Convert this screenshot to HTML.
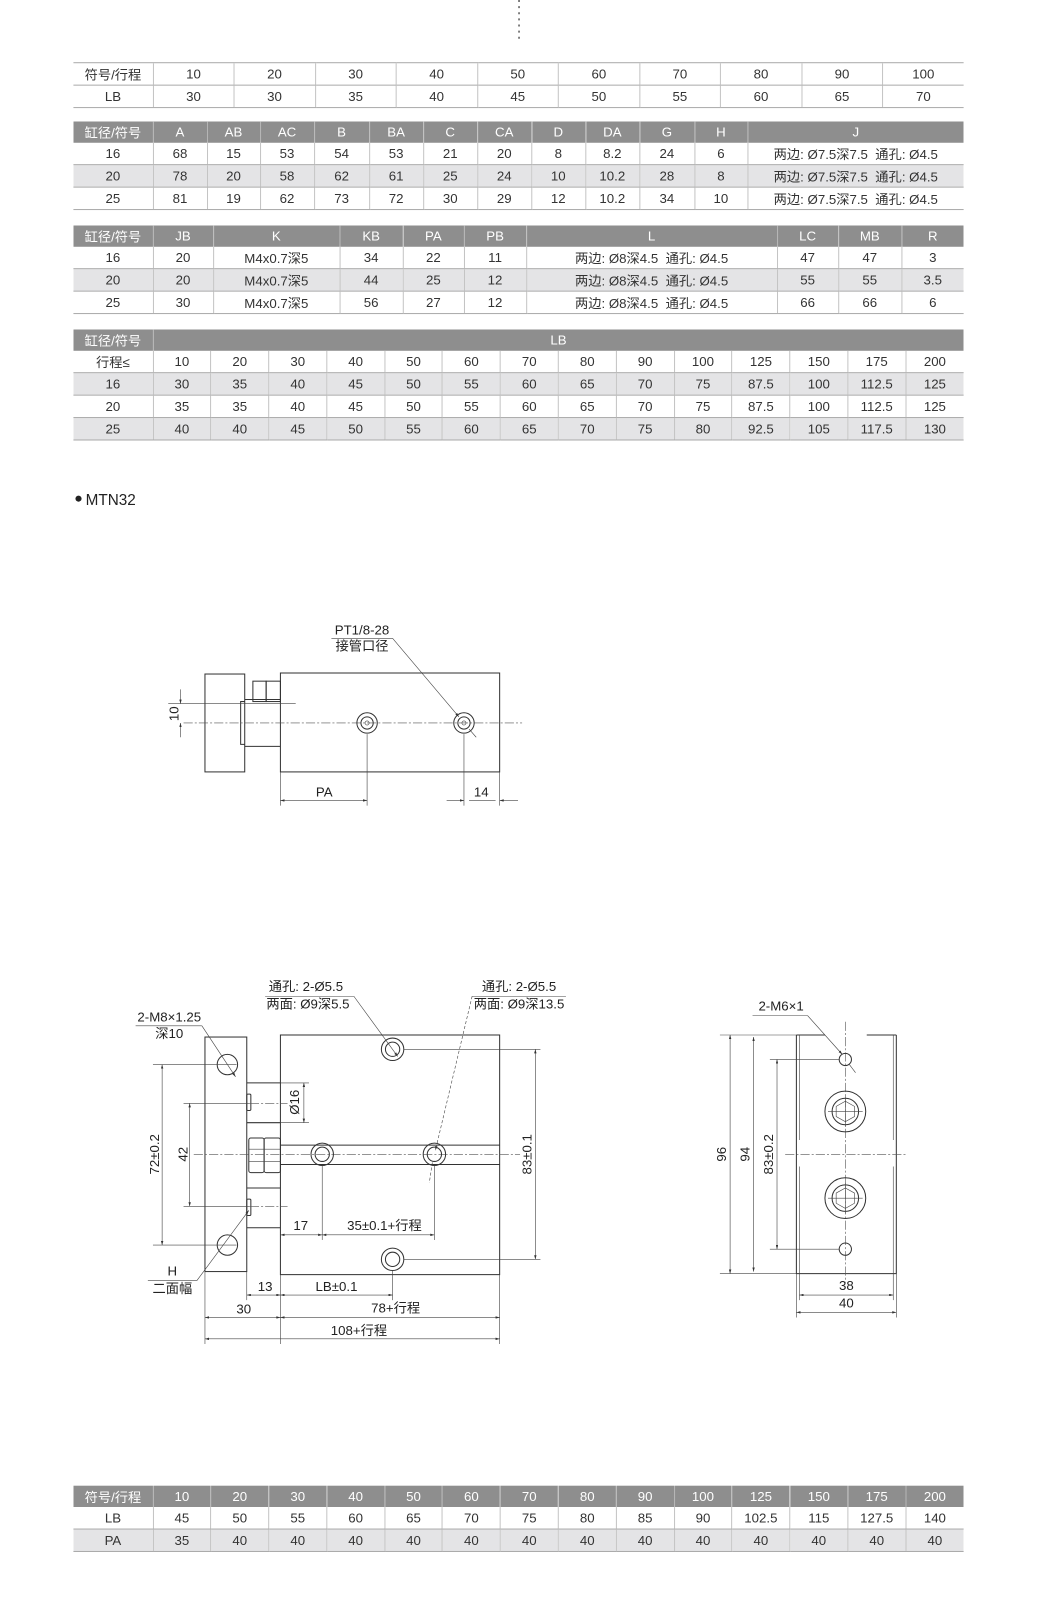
<!DOCTYPE html>
<html><head><meta charset="utf-8">
<style>
html,body{margin:0;padding:0;background:#fff;}
body{width:1037px;height:1600px;overflow:hidden;position:relative;}
#w{position:absolute;left:0;top:0;width:1017px;height:1569px;transform:scale(1.0197);transform-origin:0 0;}
table{position:absolute;left:72px;width:873px;border-collapse:collapse;table-layout:fixed;font-family:"Liberation Sans","Noto Sans CJK SC",sans-serif;font-size:13px;color:#333;}
td{height:21px;padding:0;text-align:center;border-left:1px solid #c4c4c4;border-bottom:1px solid #aaa;white-space:nowrap;overflow:hidden;}
td:first-child{border-left:none;}
tr.h td{background:#8e8e8e;color:#fff;border-left:1px solid #b5b5b5;border-bottom:none;}
tr.h td:first-child{border-left:none;}
tr.g td{background:#e4e4e6;}
.t1 tr:first-child td{border-top:1px solid #aaa;}
svg{position:absolute;left:0;top:0;}
svg text{font-family:"Liberation Sans","Noto Sans CJK SC",sans-serif;font-size:13px;fill:#222;}
.l{stroke:#333;stroke-width:1;fill:none;}
.t{stroke:#444;stroke-width:.6;fill:none;}
.c{stroke:#555;stroke-width:.6;fill:none;stroke-dasharray:9 2 2 2;}
</style></head><body><div id="w">

<table class="t1" style="top:61px">
<colgroup><col style="width:78px"><col span="10"></colgroup>
<tr><td>符号/行程</td><td>10</td><td>20</td><td>30</td><td>40</td><td>50</td><td>60</td><td>70</td><td>80</td><td>90</td><td>100</td></tr>
<tr><td>LB</td><td>30</td><td>30</td><td>35</td><td>40</td><td>45</td><td>50</td><td>55</td><td>60</td><td>65</td><td>70</td></tr>
</table>

<table style="top:119px">
<colgroup><col style="width:78px"><col style="width:53px"><col style="width:52px"><col style="width:53px"><col style="width:54px"><col style="width:53px"><col style="width:53px"><col style="width:53px"><col style="width:53px"><col style="width:53px"><col style="width:54px"><col style="width:52px"><col></colgroup>
<tr class="h"><td>缸径/符号</td><td>A</td><td>AB</td><td>AC</td><td>B</td><td>BA</td><td>C</td><td>CA</td><td>D</td><td>DA</td><td>G</td><td>H</td><td>J</td></tr>
<tr><td>16</td><td>68</td><td>15</td><td>53</td><td>54</td><td>53</td><td>21</td><td>20</td><td>8</td><td>8.2</td><td>24</td><td>6</td><td>两边: Ø7.5深7.5&nbsp; 通孔: Ø4.5</td></tr>
<tr class="g"><td>20</td><td>78</td><td>20</td><td>58</td><td>62</td><td>61</td><td>25</td><td>24</td><td>10</td><td>10.2</td><td>28</td><td>8</td><td>两边: Ø7.5深7.5&nbsp; 通孔: Ø4.5</td></tr>
<tr><td>25</td><td>81</td><td>19</td><td>62</td><td>73</td><td>72</td><td>30</td><td>29</td><td>12</td><td>10.2</td><td>34</td><td>10</td><td>两边: Ø7.5深7.5&nbsp; 通孔: Ø4.5</td></tr>
</table>

<table style="top:221px">
<colgroup><col style="width:78px"><col style="width:59px"><col style="width:124px"><col style="width:62px"><col style="width:60px"><col style="width:61px"><col style="width:246px"><col style="width:60px"><col style="width:62px"><col></colgroup>
<tr class="h"><td>缸径/符号</td><td>JB</td><td>K</td><td>KB</td><td>PA</td><td>PB</td><td>L</td><td>LC</td><td>MB</td><td>R</td></tr>
<tr><td>16</td><td>20</td><td>M4x0.7深5</td><td>34</td><td>22</td><td>11</td><td>两边: Ø8深4.5&nbsp; 通孔: Ø4.5</td><td>47</td><td>47</td><td>3</td></tr>
<tr class="g"><td>20</td><td>20</td><td>M4x0.7深5</td><td>44</td><td>25</td><td>12</td><td>两边: Ø8深4.5&nbsp; 通孔: Ø4.5</td><td>55</td><td>55</td><td>3.5</td></tr>
<tr><td>25</td><td>30</td><td>M4x0.7深5</td><td>56</td><td>27</td><td>12</td><td>两边: Ø8深4.5&nbsp; 通孔: Ø4.5</td><td>66</td><td>66</td><td>6</td></tr>
</table>

<table style="top:323px">
<colgroup><col style="width:78px"><col span="14"></colgroup>
<tr class="h"><td>缸径/符号</td><td colspan="14">LB</td></tr>
<tr><td>行程≤</td><td>10</td><td>20</td><td>30</td><td>40</td><td>50</td><td>60</td><td>70</td><td>80</td><td>90</td><td>100</td><td>125</td><td>150</td><td>175</td><td>200</td></tr>
<tr class="g"><td>16</td><td>30</td><td>35</td><td>40</td><td>45</td><td>50</td><td>55</td><td>60</td><td>65</td><td>70</td><td>75</td><td>87.5</td><td>100</td><td>112.5</td><td>125</td></tr>
<tr><td>20</td><td>35</td><td>35</td><td>40</td><td>45</td><td>50</td><td>55</td><td>60</td><td>65</td><td>70</td><td>75</td><td>87.5</td><td>100</td><td>112.5</td><td>125</td></tr>
<tr class="g"><td>25</td><td>40</td><td>40</td><td>45</td><td>50</td><td>55</td><td>60</td><td>65</td><td>70</td><td>75</td><td>80</td><td>92.5</td><td>105</td><td>117.5</td><td>130</td></tr>
</table>

<table style="top:1457px">
<colgroup><col style="width:78px"><col span="14"></colgroup>
<tr class="h"><td>符号/行程</td><td>10</td><td>20</td><td>30</td><td>40</td><td>50</td><td>60</td><td>70</td><td>80</td><td>90</td><td>100</td><td>125</td><td>150</td><td>175</td><td>200</td></tr>
<tr><td>LB</td><td>45</td><td>50</td><td>55</td><td>60</td><td>65</td><td>70</td><td>75</td><td>80</td><td>85</td><td>90</td><td>102.5</td><td>115</td><td>127.5</td><td>140</td></tr>
<tr class="g"><td>PA</td><td>35</td><td>40</td><td>40</td><td>40</td><td>40</td><td>40</td><td>40</td><td>40</td><td>40</td><td>40</td><td>40</td><td>40</td><td>40</td><td>40</td></tr>
</table>

<svg width="1017" height="1569" viewBox="0 0 1017 1569">
<defs>
<marker id="a" viewBox="0 0 10 6" refX="10" refY="3" markerWidth="7" markerHeight="4" orient="auto-start-reverse"><path d="M0 0L10 3L0 6z" fill="#333"/></marker>
</defs>
<line x1="509" y1="0" x2="509" y2="42" stroke="#333" stroke-width="1.2" stroke-dasharray="2 4"/>
<circle cx="77" cy="489" r="3" fill="#222"/>
<text x="84" y="495" style="font-size:15px">MTN32</text>

<!-- top view -->
<rect class="l" x="201" y="661" width="39" height="96"/>
<path class="l" d="M240 688h-4v42h4M240 686h35M240 732h35"/>
<rect class="l" x="248" y="668" width="13" height="20"/><rect class="l" x="261" y="668" width="14" height="20"/>
<rect class="l" x="275" y="660" width="215" height="97"/>
<line class="c" x1="180" y1="709" x2="512" y2="709"/>
<g class="l"><circle cx="360" cy="709" r="10"/><circle cx="360" cy="709" r="6"/><circle cx="455" cy="709" r="10"/><circle cx="455" cy="709" r="6"/></g>
<circle cx="360" cy="709" r="2" class="t"/><circle cx="455" cy="709" r="2" class="t"/>
<line class="t" x1="165" y1="690" x2="290" y2="690"/>
<line class="t" x1="177" y1="676" x2="177" y2="690" marker-end="url(#a)"/>
<line class="t" x1="177" y1="723" x2="177" y2="709" marker-end="url(#a)"/>
<text transform="translate(175 700) rotate(-90)" text-anchor="middle">10</text>
<line class="t" x1="275" y1="757" x2="275" y2="790"/><line class="t" x1="360" y1="720" x2="360" y2="790"/>
<line class="t" x1="455" y1="720" x2="455" y2="790"/><line class="t" x1="490" y1="757" x2="490" y2="790"/>
<line class="t" x1="275" y1="785" x2="360" y2="785" marker-start="url(#a)" marker-end="url(#a)"/>
<text x="318" y="781" text-anchor="middle">PA</text>
<line class="t" x1="438" y1="785" x2="455" y2="785" marker-end="url(#a)"/>
<line class="t" x1="508" y1="785" x2="490" y2="785" marker-end="url(#a)"/>
<line class="t" x1="460" y1="785" x2="486" y2="785"/>
<text x="472" y="781" text-anchor="middle">14</text>
<text x="355" y="622" text-anchor="middle">PT1/8-28</text>
<text x="355" y="638" text-anchor="middle">接管口径</text>
<line class="t" x1="325" y1="626" x2="385" y2="626"/>
<line class="t" x1="385" y1="626" x2="450" y2="703" marker-end="url(#a)"/>
<line class="t" x1="460" y1="715" x2="467" y2="723"/>

<!-- front view -->
<rect class="l" x="201" y="1017" width="41" height="230"/>
<rect class="l" x="275" y="1015" width="215" height="235"/>
<path class="l" d="M242 1062h33M242 1101h33M242 1165h33M242 1204h33M275 1123h215M275 1142h215"/>
<rect class="l" x="242" y="1073" width="4" height="16" rx="1"/>
<rect class="l" x="242" y="1176" width="4" height="16" rx="1"/>
<rect class="l" x="244" y="1116" width="15" height="34" rx="2"/><rect class="l" x="259" y="1116" width="16" height="34" rx="2"/>
<path class="t" d="M244 1127h31M244 1139h31"/>
<line class="c" x1="190" y1="1132" x2="510" y2="1132"/>
<g class="l"><circle cx="223" cy="1044" r="10"/><circle cx="223" cy="1221" r="10"/>
<circle cx="385" cy="1029" r="11"/><circle cx="385" cy="1029" r="7"/>
<circle cx="385" cy="1235" r="11"/><circle cx="385" cy="1235" r="7"/>
<circle cx="316" cy="1132" r="11"/><circle cx="316" cy="1132" r="7"/>
<circle cx="426" cy="1132" r="11"/><circle cx="426" cy="1132" r="7"/></g>
<!-- 72 -->
<line class="t" x1="150" y1="1044" x2="232" y2="1044"/><line class="t" x1="150" y1="1221" x2="232" y2="1221"/>
<line class="t" x1="159" y1="1044" x2="159" y2="1221" marker-start="url(#a)" marker-end="url(#a)"/>
<text transform="translate(156 1132) rotate(-90)" text-anchor="middle">72±0.2</text>
<!-- 42 -->
<line class="t" x1="180" y1="1082" x2="245" y2="1082"/><line class="t" x1="180" y1="1183" x2="245" y2="1183"/>
<line class="c" x1="245" y1="1082" x2="282" y2="1082"/><line class="c" x1="245" y1="1183" x2="282" y2="1183"/>
<line class="t" x1="186" y1="1082" x2="186" y2="1183" marker-start="url(#a)" marker-end="url(#a)"/>
<text transform="translate(184 1132) rotate(-90)" text-anchor="middle">42</text>
<!-- Ø16 -->
<line class="t" x1="275" y1="1062" x2="303" y2="1062"/><line class="t" x1="275" y1="1101" x2="303" y2="1101"/>
<line class="t" x1="298" y1="1062" x2="298" y2="1101" marker-start="url(#a)" marker-end="url(#a)"/>
<text transform="translate(293 1081) rotate(-90)" text-anchor="middle">Ø16</text>
<!-- 83 -->
<line class="t" x1="396" y1="1029" x2="530" y2="1029"/><line class="t" x1="396" y1="1235" x2="530" y2="1235"/>
<line class="t" x1="525" y1="1029" x2="525" y2="1235" marker-start="url(#a)" marker-end="url(#a)"/>
<text transform="translate(521 1132) rotate(-90)" text-anchor="middle">83±0.1</text>
<!-- 17 / 35 -->
<line class="t" x1="316" y1="1143" x2="316" y2="1216"/><line class="t" x1="426" y1="1143" x2="426" y2="1216"/>
<line class="t" x1="275" y1="1211" x2="316" y2="1211" marker-start="url(#a)" marker-end="url(#a)"/>
<line class="t" x1="316" y1="1211" x2="426" y2="1211" marker-start="url(#a)" marker-end="url(#a)"/>
<text x="295" y="1206" text-anchor="middle">17</text>
<text x="377" y="1206" text-anchor="middle">35±0.1+行程</text>
<!-- bottom dims -->
<line class="t" x1="201" y1="1247" x2="201" y2="1318"/><line class="t" x1="242" y1="1247" x2="242" y2="1275"/>
<line class="t" x1="275" y1="1250" x2="275" y2="1318"/><line class="t" x1="490" y1="1250" x2="490" y2="1318"/>
<line class="t" x1="385" y1="1246" x2="385" y2="1275"/>
<line class="t" x1="242" y1="1270" x2="275" y2="1270" marker-start="url(#a)" marker-end="url(#a)"/>
<text x="260" y="1266" text-anchor="middle">13</text>
<line class="t" x1="275" y1="1270" x2="385" y2="1270" marker-start="url(#a)" marker-end="url(#a)"/>
<text x="330" y="1266" text-anchor="middle">LB±0.1</text>
<line class="t" x1="201" y1="1292" x2="275" y2="1292" marker-start="url(#a)" marker-end="url(#a)"/>
<text x="239" y="1288" text-anchor="middle">30</text>
<line class="t" x1="275" y1="1292" x2="490" y2="1292" marker-start="url(#a)" marker-end="url(#a)"/>
<text x="388" y="1287" text-anchor="middle">78+行程</text>
<line class="t" x1="201" y1="1313" x2="490" y2="1313" marker-start="url(#a)" marker-end="url(#a)"/>
<text x="352" y="1309" text-anchor="middle">108+行程</text>
<!-- labels -->
<text x="300" y="972" text-anchor="middle">通孔: 2-Ø5.5</text>
<text x="302" y="989" text-anchor="middle">两面: Ø9深5.5</text>
<line class="t" x1="260" y1="977" x2="347" y2="977"/>
<line class="t" x1="347" y1="977" x2="390" y2="1036" marker-end="url(#a)"/>
<text x="509" y="972" text-anchor="middle">通孔: 2-Ø5.5</text>
<text x="509" y="989" text-anchor="middle">两面: Ø9深13.5</text>
<line class="t" x1="463" y1="977" x2="555" y2="977"/>
<line class="t" x1="463" y1="977" x2="427" y2="1128" stroke-dasharray="3 2" marker-end="url(#a)"/>
<line class="t" x1="424" y1="1140" x2="421" y2="1160" stroke-dasharray="3 2"/>
<text x="166" y="1002" text-anchor="middle">2-M8×1.25</text>
<text x="166" y="1018" text-anchor="middle">深10</text>
<line class="t" x1="133" y1="1006" x2="198" y2="1006"/>
<line class="t" x1="198" y1="1006" x2="231" y2="1056" marker-end="url(#a)"/>
<text x="169" y="1251" text-anchor="middle">H</text>
<text x="169" y="1268" text-anchor="middle">二面幅</text>
<line class="t" x1="145" y1="1256" x2="193" y2="1256"/>
<line class="t" x1="193" y1="1256" x2="244" y2="1187" marker-end="url(#a)"/>

<!-- side view -->
<path class="l" d="M781 1015v234h98v-234M781 1015h28M850 1015h29"/>
<path class="t" d="M784 1015v103M784 1144v105M876 1015v103M876 1144v105"/>
<line class="c" x1="829" y1="1002" x2="829" y2="1258"/>
<line class="c" x1="770" y1="1132" x2="890" y2="1132"/>
<g class="l"><circle cx="829" cy="1039" r="6"/><circle cx="829" cy="1225" r="6"/>
<circle cx="829" cy="1090" r="20"/><circle cx="829" cy="1090" r="13"/>
<circle cx="829" cy="1175" r="20"/><circle cx="829" cy="1175" r="13"/></g>
<path class="t" d="M820 1085l9-5 9 5v10l-9 5-9-5zM820 1170l9-5 9 5v10l-9 5-9-5z"/>
<path class="t" d="M812 1090h34M812 1175h34M829 1075v30M829 1160v30"/>
<line class="t" x1="706" y1="1015" x2="781" y2="1015"/><line class="t" x1="706" y1="1249" x2="781" y2="1249"/>
<line class="t" x1="716" y1="1015" x2="716" y2="1249" marker-start="url(#a)" marker-end="url(#a)"/>
<text transform="translate(712 1132) rotate(-90)" text-anchor="middle">96</text>
<line class="t" x1="739" y1="1017" x2="739" y2="1247" marker-start="url(#a)" marker-end="url(#a)"/>
<text transform="translate(735 1132) rotate(-90)" text-anchor="middle">94</text>
<line class="t" x1="755" y1="1039" x2="823" y2="1039"/><line class="t" x1="755" y1="1225" x2="823" y2="1225"/>
<line class="t" x1="762" y1="1039" x2="762" y2="1225" marker-start="url(#a)" marker-end="url(#a)"/>
<text transform="translate(758 1132) rotate(-90)" text-anchor="middle">83±0.2</text>
<line class="t" x1="781" y1="1249" x2="781" y2="1292"/><line class="t" x1="879" y1="1249" x2="879" y2="1292"/>
<line class="t" x1="784" y1="1249" x2="784" y2="1275"/><line class="t" x1="876" y1="1249" x2="876" y2="1275"/>
<line class="t" x1="784" y1="1270" x2="876" y2="1270" marker-start="url(#a)" marker-end="url(#a)"/>
<text x="830" y="1265" text-anchor="middle">38</text>
<line class="t" x1="781" y1="1287" x2="879" y2="1287" marker-start="url(#a)" marker-end="url(#a)"/>
<text x="830" y="1282" text-anchor="middle">40</text>
<text x="766" y="991" text-anchor="middle">2-M6×1</text>
<line class="t" x1="738" y1="996" x2="792" y2="996"/>
<line class="t" x1="792" y1="996" x2="826" y2="1034" marker-end="url(#a)"/>
<line class="t" x1="833" y1="1044" x2="839" y2="1052"/>
</svg>
</div></body></html>
